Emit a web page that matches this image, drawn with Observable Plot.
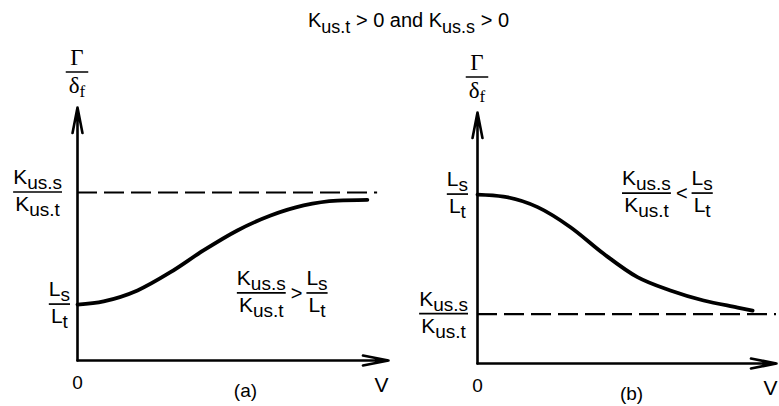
<!DOCTYPE html>
<html>
<head>
<meta charset="utf-8">
<script src="https://cdn.jsdelivr.net/npm/d3@7"></script>
<script src="https://cdn.jsdelivr.net/npm/@observablehq/plot@0.6"></script>
<style>
  html, body { margin: 0; padding: 0; background: #fff; }
  #fig { position: relative; width: 779px; height: 406px; overflow: hidden; background: #fff; }
  .layer { position: absolute; top: 0; }
</style>
</head>
<body>
<div id="fig">
  <svg id="title" class="layer" style="left:0" width="779" height="44"></svg>
  <div id="pa" class="layer" style="left:0"></div>
  <div id="pb" class="layer" style="left:390px"></div>
</div>
<script>
// Steering response Γ/δf against forward speed V (normalised units)
// (a) Kus.s/Kus.t > Ls/Lt : response rises from Ls/Lt towards Kus.s/Kus.t
const speedA = [0, 0.084, 0.193, 0.299, 0.405, 0.514, 0.621, 0.727, 0.836, 0.932];
const gainA  = [0.221, 0.234, 0.277, 0.349, 0.435, 0.514, 0.573, 0.613, 0.632, 0.635];
const lengthRatioA = 0.221;   // Ls/Lt
const usRatioA = 0.664;       // Kus.s/Kus.t

// (b) Kus.s/Kus.t < Ls/Lt : response falls from Ls/Lt towards Kus.s/Kus.t
const speedB = [0, 0.087, 0.201, 0.311, 0.421, 0.535, 0.645, 0.756, 0.870, 0.920];
const gainB  = [0.673, 0.665, 0.623, 0.543, 0.438, 0.344, 0.291, 0.251, 0.223, 0.211];
const lengthRatioB = 0.673;   // Ls/Lt
const usRatioB = 0.197;       // Kus.s/Kus.t

const axisEnds = [0, 1];
const xTickText = ["0", "V"];
const panelNames = ["(a)", "(b)"];

const SANS = '"Liberation Sans", Arial, Helvetica, sans-serif';
const SERIF = '"Liberation Serif", "Times New Roman", serif';

// Stacked fraction: numerator / bar / denominator, each part [main, subscript]
function fraction(svg, px, py, parts, opt) {
  const o = Object.assign({font: SANS, size: 21, sub: 19, subDy: 5, numGap: 8, denGap: 19, pad: 0, bar: 1.7, anchor: "start"}, opt);
  const g = d3.select(svg).append("g")
    .attr("font-family", o.font).attr("fill", "black").attr("text-anchor", "start");
  const part = (p, base) => {
    const t = g.append("text").attr("y", base);
    t.append("tspan").attr("font-size", o.size).text(p[0]);
    if (p[1]) t.append("tspan").attr("font-size", o.sub).attr("dy", o.subDy).text(p[1]);
    return t;
  };
  const tn = part(parts[0], py - o.numGap);
  const td = part(parts[1], py + o.denGap);
  const wn = tn.node().getComputedTextLength();
  const wd = td.node().getComputedTextLength();
  const w = Math.max(wn, wd) + 2 * o.pad;
  const left = o.anchor === "end" ? px - w : o.anchor === "middle" ? px - w / 2 : px;
  tn.attr("x", left + (w - wn) / 2);
  td.attr("x", left + (w - wd) / 2);
  g.append("line").attr("x1", left).attr("x2", left + w).attr("y1", py).attr("y2", py)
    .attr("stroke", "black").attr("stroke-width", o.bar);
  return left + w;
}

const usFrac = [["K", "us.s"], ["K", "us.t"]];
const lenFrac = [["L", "s"], ["L", "t"]];

// Inequality between the two ratios, written as fractions
function relation(svg, px, py, sym) {
  const end1 = fraction(svg, px, py, usFrac, {anchor: "start"});
  const t = d3.select(svg).append("text").attr("x", end1 + 5).attr("y", py + 7)
    .attr("text-anchor", "start").attr("font-family", SANS).attr("font-size", 20)
    .attr("fill", "black").text(sym);
  const w = t.node().getComputedTextLength();
  fraction(svg, end1 + 5 + w + 4, py, lenFrac, {anchor: "start"});
}

function drawPanel(el, cfg) {
  const curve = cfg.speed.map((v, i) => ({V: v, G: cfg.gain[i]}));
  const axes = [
    {x1: axisEnds[0], y1: axisEnds[0], x2: axisEnds[0], y2: axisEnds[1]},
    {x1: axisEnds[0], y1: axisEnds[0], x2: axisEnds[1], y2: axisEnds[0]}
  ];
  const chart = Plot.plot({
    width: cfg.width, height: 406,
    marginLeft: cfg.ml, marginRight: cfg.mr, marginTop: cfg.mt, marginBottom: cfg.mb,
    x: {domain: [0, 1], axis: null},
    y: {domain: [0, 1], axis: null},
    style: {fontFamily: SANS, fontSize: "20px", background: "transparent", overflow: "visible", color: "black"},
    marks: [
      Plot.ruleY([{y: cfg.usRatio, x1: 0, x2: cfg.dashEnd}], {y: "y", x1: "x1", x2: "x2", stroke: "black", strokeWidth: 2.2, strokeDasharray: "20,7"}),
      Plot.line(curve, {x: "V", y: "G", curve: "monotone-x", stroke: "black", strokeWidth: 3.8}),
      Plot.arrow(axes, {x1: "x1", y1: "y1", x2: "x2", y2: "y2", stroke: "black", strokeWidth: 2.6, headLength: 15, headAngle: 22}),
      Plot.text([axisEnds[0]], {x: d => d, y: 0, text: () => xTickText[0], dy: 22, fontSize: 19}),
      Plot.text([axisEnds[1]], {x: d => d, y: 0, text: () => xTickText[1], dy: 25, dx: cfg.vDx, fontSize: 21}),
      Plot.text([cfg.nameAt], {x: d => d, y: 0, text: () => cfg.name, dy: 30, fontSize: 19})
    ]
  });
  el.appendChild(chart);
  const sx = chart.scale("x"), sy = chart.scale("y");
  const X = v => sx.apply(v), Y = v => sy.apply(v);
  // y-axis label Γ/δf above the arrow
  fraction(chart, X(0), Y(1) - 35, [["Γ", ""], ["δ", "f"]],
    {font: SERIF, size: 23, sub: 17, subDy: 4, numGap: 7, denGap: 21, pad: 3, bar: 1.5, anchor: "middle"});
  // ratio labels on the y axis
  fraction(chart, X(0) - cfg.usGap, Y(cfg.usRatio), usFrac, {anchor: "end"});
  fraction(chart, X(0) - cfg.lenGap, Y(cfg.lengthRatio), lenFrac, {anchor: "end"});
  // condition for this case
  relation(chart, X(cfg.relAt[0]), Y(cfg.relAt[1]), cfg.sym);
}

// Heading
(function () {
  const t = d3.select("#title").append("text").attr("x", 308).attr("y", 27)
    .attr("text-anchor", "start").attr("font-family", SANS).attr("fill", "black");
  t.append("tspan").attr("font-size", 20).text("K");
  t.append("tspan").attr("font-size", 18).attr("dy", 6).text("us.t");
  t.append("tspan").attr("font-size", 20).attr("dy", -6).text(" > 0 and K");
  t.append("tspan").attr("font-size", 18).attr("dy", 6).text("us.s");
  t.append("tspan").attr("font-size", 20).attr("dy", -6).text(" > 0");
})();

drawPanel(document.getElementById("pa"), {
  speed: speedA, gain: gainA, lengthRatio: lengthRatioA, usRatio: usRatioA,
  width: 390, ml: 77, mr: 2, mt: 107, mb: 46, dashEnd: 0.965,
  vDx: -7, name: panelNames[0], nameAt: 0.54,
  usGap: 15, lenGap: 7, relAt: [0.514, 0.265], sym: ">"
});

drawPanel(document.getElementById("pb"), {
  speed: speedB, gain: gainB, lengthRatio: lengthRatioB, usRatio: usRatioB,
  width: 389, ml: 87, mr: 3, mt: 112, mb: 43, dashEnd: 1.0,
  vDx: -6, name: panelNames[1], nameAt: 0.515,
  usGap: 9, lenGap: 9, relAt: [0.485, 0.677], sym: "<"
});
</script>
</body>
</html>
